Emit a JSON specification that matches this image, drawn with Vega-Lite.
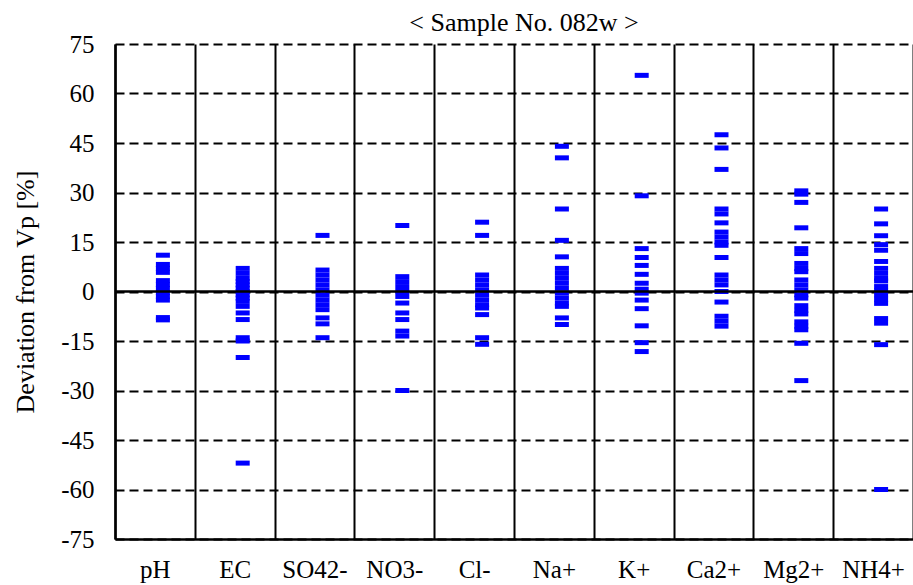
{
  "$schema": "https://vega.github.io/schema/vega-lite/v6.json",
  "autosize": "none",
  "padding": {"left": 115, "top": 44, "right": 0, "bottom": 46},
  "width": 798,
  "height": 495,
  "title": {"text": "< Sample No. 082w >", "font": "Liberation Serif", "fontSize": 26, "fontWeight": "normal", "color": "black", "offset": 9, "anchor": "middle", "dx": 10, "dy": 13},
  "config": {"view": {"stroke": null}, "font": "Liberation Serif", "title": {"font": "Liberation Serif", "fontWeight": "normal"}},
  "datasets": {
    "pts": [
      {"c":"pH","v":11},{"c":"pH","v":8.2},{"c":"pH","v":7},{"c":"pH","v":5.8},{"c":"pH","v":3.3},{"c":"pH","v":2.1},{"c":"pH","v":0.9},{"c":"pH","v":-0.3},{"c":"pH","v":-1.5},{"c":"pH","v":-2.6},{"c":"pH","v":-7.9},{"c":"pH","v":-8.6},
      {"c":"EC","v":7},{"c":"EC","v":5.5},{"c":"EC","v":4},{"c":"EC","v":3},{"c":"EC","v":2},{"c":"EC","v":1},{"c":"EC","v":0},{"c":"EC","v":-1},{"c":"EC","v":-2},{"c":"EC","v":-3},{"c":"EC","v":-4.5},{"c":"EC","v":-6.5},{"c":"EC","v":-8.5},{"c":"EC","v":-14},{"c":"EC","v":-15},{"c":"EC","v":-20},{"c":"EC","v":-52},
      {"c":"SO42-","v":17},{"c":"SO42-","v":6.5},{"c":"SO42-","v":5},{"c":"SO42-","v":3.5},{"c":"SO42-","v":2},{"c":"SO42-","v":0.5},{"c":"SO42-","v":-1},{"c":"SO42-","v":-2.5},{"c":"SO42-","v":-4},{"c":"SO42-","v":-5.5},{"c":"SO42-","v":-8},{"c":"SO42-","v":-9.8},{"c":"SO42-","v":-14},
      {"c":"NO3-","v":20},{"c":"NO3-","v":4.5},{"c":"NO3-","v":3},{"c":"NO3-","v":1.5},{"c":"NO3-","v":0},{"c":"NO3-","v":-1.5},{"c":"NO3-","v":-3.5},{"c":"NO3-","v":-6.5},{"c":"NO3-","v":-8.5},{"c":"NO3-","v":-12},{"c":"NO3-","v":-13.5},{"c":"NO3-","v":-30},
      {"c":"Cl-","v":21},{"c":"Cl-","v":17},{"c":"Cl-","v":5},{"c":"Cl-","v":3.5},{"c":"Cl-","v":2},{"c":"Cl-","v":0.5},{"c":"Cl-","v":-1},{"c":"Cl-","v":-2.5},{"c":"Cl-","v":-4},{"c":"Cl-","v":-5},{"c":"Cl-","v":-7},{"c":"Cl-","v":-14},{"c":"Cl-","v":-16},
      {"c":"Na+","v":44},{"c":"Na+","v":40.5},{"c":"Na+","v":25},{"c":"Na+","v":15.5},{"c":"Na+","v":10.5},{"c":"Na+","v":7},{"c":"Na+","v":5.5},{"c":"Na+","v":4},{"c":"Na+","v":2.5},{"c":"Na+","v":1},{"c":"Na+","v":-0.5},{"c":"Na+","v":-2},{"c":"Na+","v":-3.5},{"c":"Na+","v":-4.5},{"c":"Na+","v":-8},{"c":"Na+","v":-10},
      {"c":"K+","v":65.5},{"c":"K+","v":29},{"c":"K+","v":13},{"c":"K+","v":10.3},{"c":"K+","v":7.9},{"c":"K+","v":5.2},{"c":"K+","v":2.5},{"c":"K+","v":0.7},{"c":"K+","v":-0.5},{"c":"K+","v":-2.6},{"c":"K+","v":-5.2},{"c":"K+","v":-10.4},{"c":"K+","v":-15.5},{"c":"K+","v":-18.2},
      {"c":"Ca2+","v":47.5},{"c":"Ca2+","v":43.5},{"c":"Ca2+","v":37},{"c":"Ca2+","v":25},{"c":"Ca2+","v":23.5},{"c":"Ca2+","v":20.8},{"c":"Ca2+","v":18},{"c":"Ca2+","v":16.5},{"c":"Ca2+","v":15},{"c":"Ca2+","v":14},{"c":"Ca2+","v":10.3},{"c":"Ca2+","v":5},{"c":"Ca2+","v":3.5},{"c":"Ca2+","v":2},{"c":"Ca2+","v":0},{"c":"Ca2+","v":-3.2},{"c":"Ca2+","v":-7.5},{"c":"Ca2+","v":-9},{"c":"Ca2+","v":-10.5},
      {"c":"Mg2+","v":30.5},{"c":"Mg2+","v":29.5},{"c":"Mg2+","v":27},{"c":"Mg2+","v":19.3},{"c":"Mg2+","v":13},{"c":"Mg2+","v":11.5},{"c":"Mg2+","v":8.5},{"c":"Mg2+","v":7},{"c":"Mg2+","v":6},{"c":"Mg2+","v":3.5},{"c":"Mg2+","v":2},{"c":"Mg2+","v":0.5},{"c":"Mg2+","v":-1},{"c":"Mg2+","v":-2},{"c":"Mg2+","v":-4.3},{"c":"Mg2+","v":-5.7},{"c":"Mg2+","v":-6.8},{"c":"Mg2+","v":-9.2},{"c":"Mg2+","v":-10.5},{"c":"Mg2+","v":-11.6},{"c":"Mg2+","v":-15.7},{"c":"Mg2+","v":-27},
      {"c":"NH4+","v":25},{"c":"NH4+","v":20.5},{"c":"NH4+","v":16.9},{"c":"NH4+","v":14.2},{"c":"NH4+","v":12.5},{"c":"NH4+","v":9.1},{"c":"NH4+","v":7},{"c":"NH4+","v":5.5},{"c":"NH4+","v":4},{"c":"NH4+","v":3.2},{"c":"NH4+","v":1.5},{"c":"NH4+","v":0.2},{"c":"NH4+","v":-1},{"c":"NH4+","v":-2.3},{"c":"NH4+","v":-3.6},{"c":"NH4+","v":-8.2},{"c":"NH4+","v":-9.6},{"c":"NH4+","v":-16.1},{"c":"NH4+","v":-60}
    ]
  },
  "layer": [
    {
      "data": {"name": "pts"},
      "mark": {"type": "tick", "color": "#0000FF", "size": 14, "thickness": 5, "opacity": 1, "xOffset": 8},
      "encoding": {
        "x": {
          "field": "c", "type": "nominal", "sort": null,
          "scale": {"domain": ["pH","EC","SO42-","NO3-","Cl-","Na+","K+","Ca2+","Mg2+","NH4+"], "paddingInner": 0, "paddingOuter": 0},
          "axis": {"title": null, "labelAngle": 0, "labelFontSize": 25, "labelColor": "black", "labelPadding": 18, "ticks": false, "domainColor": "black", "domainWidth": 2.5, "grid": true, "tickBand": "extent", "gridColor": "black", "gridWidth": 2, "gridOpacity": 1, "labelFont": "Liberation Serif", "labelDx": 3}
        },
        "y": {
          "field": "v", "type": "quantitative",
          "scale": {"domain": [-75, 75], "nice": false, "zero": false},
          "axis": {"title": "Deviation from Vp [%]", "titleFontSize": 26, "titleFontWeight": "normal", "titleColor": "black", "titleFont": "Liberation Serif", "titlePadding": 22, "values": [-75,-60,-45,-30,-15,0,15,30,45,60,75], "labelExpr": "datum.value + ''", "labelFontSize": 25, "labelColor": "black", "labelPadding": 21, "labelFont": "Liberation Serif", "ticks": false, "domainColor": "black", "domainWidth": 2.5, "grid": true, "gridColor": "black", "gridWidth": 2, "gridDash": [9, 5], "gridOpacity": 1}
        }
      }
    },
    {
      "data": {"values": [{"z": 0}]},
      "mark": {"type": "rule", "color": "black", "strokeWidth": 2.5},
      "encoding": {"y": {"field": "z", "type": "quantitative"}}
    }
  ]
}
